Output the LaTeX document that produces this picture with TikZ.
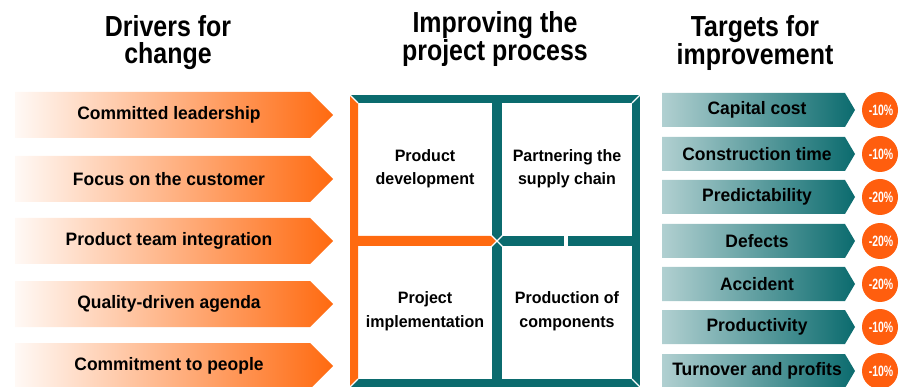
\documentclass[tikz,border=0pt]{standalone}
\usepackage{fontspec}
\setmainfont{Liberation Sans}[FakeStretch=0.97]
\newfontfamily\titlefont{Liberation Sans}[FakeStretch=0.86]
\newfontfamily\pctfont{Liberation Sans}[FakeStretch=0.7]
\definecolor{orng}{HTML}{FF6A10}
\definecolor{tealc}{HTML}{0B6B6E}
\definecolor{circc}{HTML}{FF5E0E}
\begin{document}
\begin{tikzpicture}[x=1pt,y=-1pt,
  title/.style={font=\titlefont\bfseries\fontsize{29}{27}\selectfont, align=center, anchor=north, inner sep=0pt},
  drv/.style={font=\bfseries\fontsize{18}{20}\selectfont, text=black, inner sep=0pt},
  quad/.style={font=\bfseries\fontsize{16.5}{20}\selectfont, anchor=base, inner sep=0pt},
  tgt/.style={font=\bfseries\fontsize{18}{20}\selectfont, text=black, inner sep=0pt},
  pct/.style={font=\pctfont\bfseries\fontsize{15}{16}\selectfont, text=white, inner sep=0pt},
  drvshade/.style={left color=orng!4, middle color=orng!38, right color=orng},
  tgtshade/.style={left color=tealc!32, middle color=tealc!62, right color=tealc},
  bevel/.style={draw=white, line width=1.1pt}
]
\useasboundingbox (0,0) rectangle (907,387);

% titles
\node[title] (t1) at (168,15.5) {Drivers for\\change};
\node[title] (t2) at (495,11) {Improving the\\project process};
\node[title] (t3) at (755,15.5) {Targets for\\improvement};

% drivers (left arrows)
\foreach \c/\txt/\nm in {115/Committed leadership/d1, 179/Focus on the customer/d2,
    241/Product team integration/d3, 304/Quality-driven agenda/d4, 366/Commitment to people/d5}{
  \shade[drvshade] (15,\c-23) -- (310,\c-23) -- (333,\c) -- (310,\c+23) -- (15,\c+23) -- cycle;
  \node[drv] (\nm) at (169,\c) {\txt};
}

% central frame
\fill[tealc] (350,95) rectangle (640,103);
\fill[tealc] (632,95) rectangle (640,387);
\fill[tealc] (350,379) rectangle (640,387);
\fill[tealc] (492,103) rectangle (502,379);
\fill[tealc] (497,236) rectangle (632,246);
\fill[orng] (350,95) -- (358,103) -- (358,379) -- (350,387) -- cycle;
\fill[orng] (358,236) -- (492,236) -- (497,241) -- (492,246) -- (358,246) -- cycle;
\draw[bevel] (350,95) -- (358,103);
\draw[bevel] (640,95) -- (632,103);
\draw[bevel] (640,387) -- (632,379);
\draw[bevel] (350,387) -- (358,379);
\draw[bevel] (489,233) -- (505,249);
\draw[bevel] (505,233) -- (489,249);
\fill[white] (564,235) rectangle (568,247);

% quadrant labels
\node[quad] (q1a) at (425,162) {Product};
\node[quad] (q1b) at (425,185) {development};
\node[quad] (q2a) at (567,162) {Partnering the};
\node[quad] (q2b) at (567,185) {supply chain};
\node[quad] (q3a) at (425,303) {Project};
\node[quad] (q3b) at (425,327) {implementation};
\node[quad] (q4a) at (567,303) {Production of};
\node[quad] (q4b) at (567,327) {components};

% targets (right arrows) with circles
\foreach \c/\txt/\p/\nm in {110/Capital cost/-10\%/r1, 154/Construction time/-10\%/r2,
    197/Predictability/-20\%/r3, 241/Defects/-20\%/r4, 284/Accident/-20\%/r5,
    327/Productivity/-10\%/r6, 371/Turnover and profits/-10\%/r7}{
  \shade[tgtshade] (662,\c-17) -- (845,\c-17) -- (855,\c) -- (845,\c+17) -- (662,\c+17) -- cycle;
  \node[tgt] (\nm) at (757,\c) {\txt};
  \fill[circc] (880,\c) circle (18);
  \node[pct] (\nm p) at (881,\c) {\p};
}
\end{tikzpicture}
\end{document}
